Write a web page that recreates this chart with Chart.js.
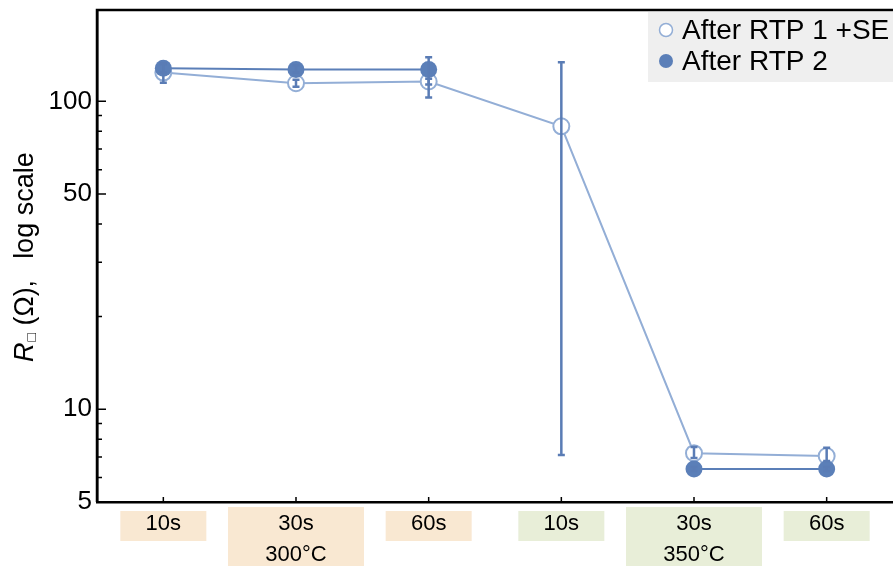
<!DOCTYPE html>
<html>
<head>
<meta charset="utf-8">
<script src="https://cdn.jsdelivr.net/npm/chart.js@4.4.0/dist/chart.umd.min.js"></script>
<style>
  html, body { margin: 0; padding: 0; background: #fff; }
  #wrap { width: 893px; height: 566px; }
</style>
</head>
<body>
<div id="wrap"><canvas id="chart" width="893" height="566"></canvas></div>
<script>
// anneal times and temperatures
const categories = ['10s', '30s', '60s', '10s', '30s', '60s'];
const temperatures = ['', '300°C', '', '', '350°C', ''];
const groups = [0, 0, 0, 1, 1, 1];

// sheet resistance (ohm)
const rtp1 = [124, 114.5, 116, 83, 7.2, 7.05];
const rtp1Low = [115, 111.5, 113.5, 7.1, 6.95, 6.8];
const rtp1High = [133, 117.5, 118.5, 134, 7.55, 7.5];

const rtp2 = [128, 127, 127, null, 6.4, 6.4];
const rtp2Low = [124, 124, 103, null, 6.3, 6.3];
const rtp2High = [132, 131, 139, null, 6.5, 6.5];

const yTicks = [5, 10, 50, 100];
const yMinorTicks = [6, 7, 8, 9, 20, 30, 40, 60, 70, 80, 90];

const FONT = '"Liberation Sans", Arial, sans-serif';
const LIGHT = '#93aed6';
const DARK = '#5b7fb8';
const BAR = '#5a7cb5';
const boxColors = ['#f9e8d2', '#e8eed8'];

function noPadding(scale) {
	scale.paddingTop = 0;
	scale.paddingBottom = 0;
	scale.paddingLeft = 0;
	scale.paddingRight = 0;
}

// error bars, drawn on top of the markers
const errorBars = {
	id: 'errorBars',
	afterDatasetsDraw: function(chart) {
		const ctx = chart.ctx;
		const x = chart.scales.x, y = chart.scales.y;
		const sets = [[rtp1Low, rtp1High], [rtp2Low, rtp2High]];
		ctx.save();
		ctx.strokeStyle = BAR;
		ctx.lineWidth = 2.5;
		sets.forEach(function(s) {
			for (let i = 0; i < categories.length; i++) {
				if (s[0][i] == null) continue;
				const px = x.getPixelForValue(i);
				const y1 = y.getPixelForValue(s[0][i]);
				const y2 = y.getPixelForValue(s[1][i]);
				ctx.beginPath();
				ctx.moveTo(px, y1); ctx.lineTo(px, y2);
				ctx.moveTo(px - 3.5, y1); ctx.lineTo(px + 3.5, y1);
				ctx.moveTo(px - 3.5, y2); ctx.lineTo(px + 3.5, y2);
				ctx.stroke();
			}
		});
		ctx.restore();
	}
};

// coloured boxes behind the x labels
const labelBoxes = {
	id: 'labelBoxes',
	beforeDraw: function(chart) {
		const ctx = chart.ctx;
		const x = chart.scales.x;
		const bottom = chart.chartArea.bottom;
		ctx.save();
		for (let i = 0; i < categories.length; i++) {
			const px = x.getPixelForValue(i);
			ctx.fillStyle = boxColors[groups[i]];
			if (temperatures[i]) {
				ctx.fillRect(px - 68, bottom + 5, 136, chart.height - bottom - 5);
			} else {
				ctx.fillRect(px - 43, bottom + 9, 86, 30);
			}
		}
		ctx.restore();
	}
};

// frame, inward ticks, axis title and legend
const decorations = {
	id: 'decorations',
	afterDraw: function(chart) {
		const ctx = chart.ctx;
		const a = chart.chartArea;
		const x = chart.scales.x, y = chart.scales.y;
		ctx.save();
		ctx.strokeStyle = '#000';
		ctx.lineWidth = 2.5;
		ctx.beginPath();
		ctx.moveTo(a.left, a.bottom); ctx.lineTo(a.left, a.top); ctx.lineTo(chart.width, a.top);
		ctx.stroke();

		ctx.lineWidth = 1.5;
		ctx.beginPath();
		yTicks.forEach(function(v) {
			const py = y.getPixelForValue(v);
			ctx.moveTo(a.left, py); ctx.lineTo(a.left + 9, py);
		});
		yMinorTicks.forEach(function(v) {
			const py = y.getPixelForValue(v);
			ctx.moveTo(a.left, py); ctx.lineTo(a.left + 5, py);
		});
		for (let i = 0; i < categories.length; i++) {
			const px = x.getPixelForValue(i);
			ctx.moveTo(px, a.bottom); ctx.lineTo(px, a.bottom - 5);
		}
		ctx.stroke();

		// y axis title: R□ (Ω),  log scale
		ctx.translate(33, 362);
		ctx.rotate(-Math.PI / 2);
		ctx.fillStyle = '#000';
		ctx.textBaseline = 'alphabetic';
		ctx.textAlign = 'left';
		ctx.font = 'italic 27px ' + FONT;
		ctx.fillText('R', 0, 0);
		let off = ctx.measureText('R').width + 1;
		ctx.font = '14px ' + FONT;
		ctx.fillText('\u25A1', off, 3);
		off += ctx.measureText('\u25A1').width;
		ctx.font = '27px ' + FONT;
		ctx.fillText(' (\u03A9),\u2002 log scale', off, 0);
		ctx.setTransform(1, 0, 0, 1, 0, 0);

		// legend
		ctx.fillStyle = '#efefef';
		ctx.fillRect(648, 12, chart.width - 648, 70);
		ctx.lineWidth = 1.5;
		ctx.strokeStyle = LIGHT;
		ctx.fillStyle = '#fff';
		ctx.beginPath();
		ctx.arc(666, 30, 6.5, 0, Math.PI * 2);
		ctx.fill(); ctx.stroke();
		ctx.fillStyle = DARK;
		ctx.beginPath();
		ctx.arc(666, 61, 7, 0, Math.PI * 2);
		ctx.fill();
		ctx.fillStyle = '#000';
		ctx.font = '28px ' + FONT;
		ctx.textBaseline = 'middle';
		ctx.fillText('After RTP 1 +SE', 682, 31);
		ctx.fillText('After RTP 2', 682, 62);
		ctx.restore();
	}
};

new Chart(document.getElementById('chart').getContext('2d'), {
	type: 'line',
	data: {
		labels: categories.map(function(c, i) {
			return temperatures[i] ? [c, temperatures[i]] : c;
		}),
		datasets: [{
			label: 'After RTP 1 +SE',
			data: rtp1,
			order: 2,
			borderColor: LIGHT,
			borderWidth: 2,
			pointRadius: 8,
			pointBorderWidth: 2,
			pointBackgroundColor: '#fff',
			pointBorderColor: LIGHT,
			tension: 0
		}, {
			label: 'After RTP 2',
			data: rtp2,
			order: 1,
			spanGaps: false,
			borderColor: DARK,
			borderWidth: 2,
			pointRadius: 8.5,
			pointBorderWidth: 0,
			pointBackgroundColor: DARK,
			pointBorderColor: DARK,
			tension: 0
		}]
	},
	options: {
		responsive: false,
		animation: false,
		layout: { autoPadding: false, padding: { top: 10, right: 0, left: 0, bottom: 0 } },
		plugins: {
			legend: { display: false },
			tooltip: { enabled: false }
		},
		scales: {
			x: {
				offset: true,
				grid: { display: false, drawTicks: false },
				border: { display: true, color: '#000', width: 2.5 },
				ticks: {
					padding: 7,
					color: '#000',
					maxRotation: 0,
					font: { family: FONT, size: 22, lineHeight: 1.4 }
				},
				afterFit: function(scale) { scale.height = 64; noPadding(scale); }
			},
			y: {
				type: 'logarithmic',
				min: 5,
				max: 198,
				grid: { display: false, drawTicks: false },
				border: { display: true, color: '#000', width: 2.5 },
				afterBuildTicks: function(scale) {
					scale.ticks = yTicks.map(function(v) { return { value: v }; });
				},
				ticks: {
					padding: 5,
					color: '#000',
					font: { family: FONT, size: 26 },
					callback: function(v) { return yTicks.indexOf(v) >= 0 ? String(v) : ''; }
				},
				afterFit: function(scale) { scale.width = 97; noPadding(scale); }
			}
		}
	},
	plugins: [labelBoxes, errorBars, decorations]
});
</script>
</body>
</html>
